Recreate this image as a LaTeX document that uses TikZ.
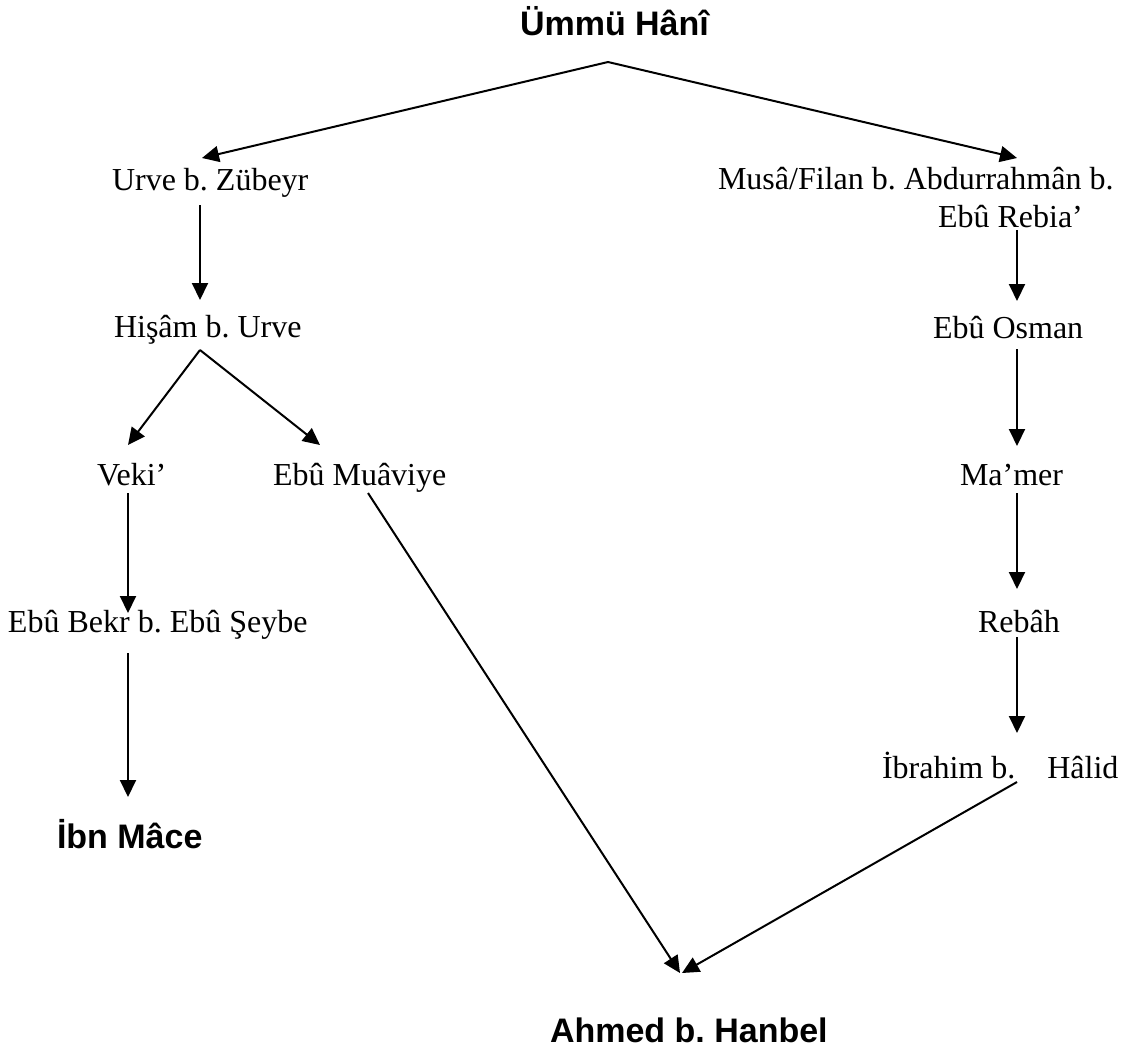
\documentclass[tikz,border=0pt]{standalone}
\usepackage{fontspec}
\setmainfont{Liberation Serif}
\newfontfamily\headfont{Liberation Sans}
\usetikzlibrary{arrows.meta,calc}
\frenchspacing
\tikzset{
  lbl/.style={inner sep=0pt, outer sep=0pt, anchor=base west, font=\fontsize{32}{38}\selectfont},
  hd/.style={inner sep=0pt, outer sep=0pt, anchor=base west, font=\headfont\bfseries\fontsize{34}{40}\selectfont},
  arr/.style={line width=2pt, -{Triangle[length=17pt,width=16pt]}}
}
\begin{document}
\begin{tikzpicture}[x=1pt,y=-1pt]
\useasboundingbox (0,0) rectangle (1140,1053);
% nodes (base west at left edge / baseline)
\node[hd]  (umm)     at (520,35)   {Ümmü Hânî};
\node[lbl] (urve)    at (112,190)  {Urve b. Zübeyr};
\node[lbl] (musa1)   at (718,189)  {Musâ/Filan b. Abdurrahmân b.};
\node[lbl] (musa2)   at (938,227)  {Ebû Rebia’};
\node[lbl] (hisam)   at (114,337)  {Hişâm b. Urve};
\node[lbl] (osman)   at (933,338)  {Ebû Osman};
\node[lbl] (veki)    at (97,485)   {Veki’};
\node[lbl] (muaviye) at (273,485)  {Ebû Muâviye};
\node[lbl] (mamer)   at (960,485)  {Ma’mer};
\node[lbl] (ebubekr) at (8,632)    {Ebû Bekr b. Ebû Şeybe};
\node[lbl] (rebah)   at (978,632)  {Rebâh};
\node[lbl] (ibrahim) at (882,778)  {İbrahim b.\hspace*{32pt}Hâlid};
\node[hd]  (ibnmace) at (57,848)   {İbn Mâce};
\node[hd]  (ahmed)   at (550,1042) {Ahmed b. Hanbel};
% connectors
\draw[arr] ($(umm.base west)+(88,27)$) -- ($(urve.base west)+(90,-32)$);
\draw[arr] ($(umm.base west)+(88,27)$) -- ($(musa1.base west)+(299,-31)$);
\draw[arr] ($(urve.base west)+(88,15)$) -- ($(hisam.base west)+(86,-37)$);
\draw[arr] ($(musa2.base west)+(79,3)$) -- ($(osman.base west)+(84,-37)$);
\draw[arr] ($(hisam.base west)+(86,13)$) -- ($(veki.base west)+(31,-40)$);
\draw[arr] ($(hisam.base west)+(86,13)$) -- ($(muaviye.base west)+(47,-40)$);
\draw[arr] ($(osman.base west)+(84,11)$) -- ($(mamer.base west)+(57,-39)$);
\draw[arr] ($(veki.base west)+(31,8)$) -- ($(ebubekr.base west)+(120,-19)$);
\draw[arr] ($(muaviye.base west)+(95,8)$) -- ($(ahmed.base west)+(130,-69)$);
\draw[arr] ($(mamer.base west)+(57,8)$) -- ($(rebah.base west)+(39,-43)$);
\draw[arr] ($(ebubekr.base west)+(120,21)$) -- ($(ibnmace.base west)+(71,-51)$);
\draw[arr] ($(rebah.base west)+(39,5)$) -- ($(ibrahim.base west)+(135,-45)$);
\draw[arr] ($(ibrahim.base west)+(135,4)$) -- ($(ahmed.base west)+(132,-69)$);
\end{tikzpicture}
\end{document}
